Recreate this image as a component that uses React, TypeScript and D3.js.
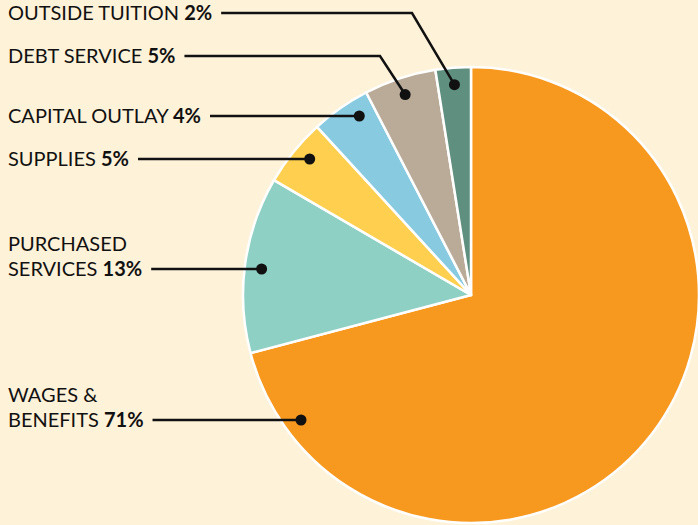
import React, { useEffect, useRef } from "react";
import * as d3 from "d3";

// Données du budget (en pourcentage)
const categories = ["Wages & Benefits", "Purchased Services", "Supplies", "Capital Outlay", "Debt Service", "Outside Tuition"];
const values = [70.9, 12.5, 4.8, 4.2, 5.1, 2.5];
const pctLabels = ["71%", "13%", "5%", "4%", "5%", "2%"];
const colors = ["#F8991F", "#8FD0C4", "#FFD04F", "#88CAE0", "#B9AB98", "#5F8F7F"];
const labelLines = [["WAGES &", "BENEFITS"], ["PURCHASED", "SERVICES"], ["SUPPLIES"], ["CAPITAL OUTLAY"], ["DEBT SERVICE"], ["OUTSIDE TUITION"]];

const width = 698, height = 525;

const App = () => {
    const svgRef = useRef(null);

    useEffect(() => {
        document.body.style.margin = "0";
        const svg = d3.select(svgRef.current);
        svg.selectAll("*").remove();

        const cx = 471, cy = 295, radius = 228;
        const dotRadius = 211;

        svg.append("rect").attr("width", width).attr("height", height).attr("fill", "#FEF2D9");

        const data = categories.map((c, i) => ({ name: c, value: values[i], pct: pctLabels[i], color: colors[i], lines: labelLines[i] }));

        const pie = d3.pie().value(d => d.value).sort(null);
        const arcs = pie(data);
        const arc = d3.arc().innerRadius(0).outerRadius(radius);

        const g = svg.append("g").attr("transform", `translate(${cx},${cy})`);
        g.selectAll("path")
            .data(arcs)
            .enter()
            .append("path")
            .attr("d", arc)
            .attr("fill", d => d.data.color)
            .attr("stroke", "#fff")
            .attr("stroke-width", 2.5)
            .attr("stroke-linejoin", "round");

        // Placement des étiquettes : y de la ligne, et coude éventuel
        const layout = [
            { y: 420, elbow: null },
            { y: 269, elbow: null },
            { y: 159, elbow: null },
            { y: 116, elbow: null },
            { y: 56, elbow: 380 },
            { y: 13, elbow: 412 }
        ];

        const lineH = 25;

        arcs.forEach((a, i) => {
            const lay = layout[i];
            const lines = a.data.lines;
            let dot;
            if (lay.elbow == null) {
                const dy = lay.y - cy;
                dot = [cx - Math.sqrt(dotRadius * dotRadius - dy * dy), lay.y];
            } else {
                const mid = (a.startAngle + a.endAngle) / 2;
                dot = [cx + Math.sin(mid) * dotRadius, cy - Math.cos(mid) * dotRadius];
            }

            // texte
            const text = svg.append("text")
                .attr("font-family", "Lato, 'Open Sans', sans-serif")
                .attr("font-size", 20)
                .attr("fill", "#111");
            lines.forEach((l, k) => {
                const isLast = k === lines.length - 1;
                text.append("tspan")
                    .attr("x", 8)
                    .attr("y", lay.y + 7 - (lines.length - 1 - k) * lineH)
                    .text(isLast ? l + " " : l);
                if (isLast) {
                    text.append("tspan").attr("font-weight", "bold").text(a.data.pct);
                }
            });
            const bbox = text.node().getBBox();
            const x0 = bbox.x + bbox.width + 9;

            const pts = lay.elbow == null
                ? [[x0, lay.y], dot]
                : [[x0, lay.y], [lay.elbow, lay.y], dot];

            svg.append("path")
                .attr("d", d3.line()(pts))
                .attr("fill", "none")
                .attr("stroke", "#111")
                .attr("stroke-width", 2.5);

            svg.append("circle")
                .attr("cx", dot[0])
                .attr("cy", dot[1])
                .attr("r", 5.5)
                .attr("fill", "#111");
        });
    }, []);

    return <svg ref={svgRef} width={width} height={height} style={{ display: "block" }}></svg>;
};

export default App;
